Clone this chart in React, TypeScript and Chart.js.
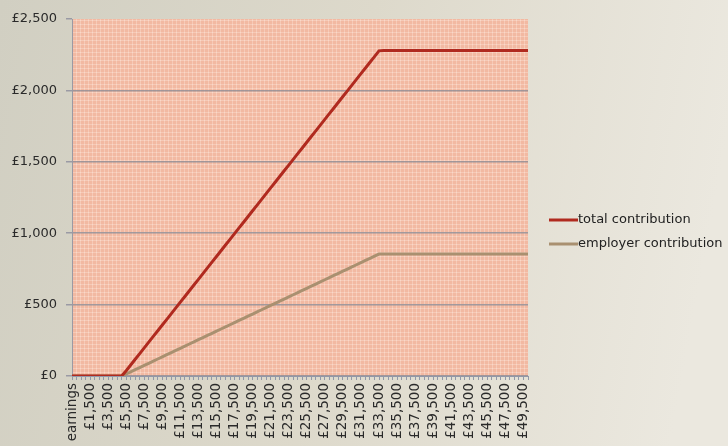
import React, { useEffect, useRef } from "react";
import { Chart, registerables } from "chart.js";

Chart.register(...registerables);

const earnings = [
  0, 500, 1000, 1500, 2000, 2500, 3000, 3500, 4000, 4500, 5000, 5500, 6000, 6500, 7000, 7500, 8000, 8500, 9000, 9500,
  10000, 10500, 11000, 11500, 12000, 12500, 13000, 13500, 14000, 14500, 15000, 15500, 16000, 16500, 17000, 17500, 18000, 18500, 19000, 19500,
  20000, 20500, 21000, 21500, 22000, 22500, 23000, 23500, 24000, 24500, 25000, 25500, 26000, 26500, 27000, 27500, 28000, 28500, 29000, 29500,
  30000, 30500, 31000, 31500, 32000, 32500, 33000, 33500, 34000, 34500, 35000, 35500, 36000, 36500, 37000, 37500, 38000, 38500, 39000, 39500,
  40000, 40500, 41000, 41500, 42000, 42500, 43000, 43500, 44000, 44500, 45000, 45500, 46000, 46500, 47000, 47500, 48000, 48500, 49000, 49500,
  50000,
];

const firstCategory = "earnings";

const totalContribution = [
  0,
  0, 0, 0, 0, 0, 0, 0, 0, 0, 0, 0,
  37, 77, 117, 157, 197, 237, 277, 317, 357, 397, 437, 477, 517, 557, 597, 637, 677, 717, 757, 797,
  837, 877, 917, 957, 997, 1037, 1077, 1117, 1157, 1197, 1237, 1277, 1317, 1357, 1397, 1437, 1477, 1517, 1557, 1597,
  1637, 1677, 1717, 1757, 1797, 1837, 1877, 1917, 1957, 1997, 2037, 2077, 2117, 2157, 2197, 2237, 2277,
  2280, 2280, 2280, 2280, 2280, 2280, 2280, 2280, 2280, 2280, 2280, 2280, 2280, 2280, 2280, 2280, 2280,
  2280, 2280, 2280, 2280, 2280, 2280, 2280, 2280, 2280, 2280, 2280, 2280, 2280, 2280, 2280, 2280,
];

const employerContribution = [
  0,
  0, 0, 0, 0, 0, 0, 0, 0, 0, 0, 0,
  14, 29, 44, 59, 74, 89, 104, 119, 134, 149, 164, 179, 194, 209, 224, 239, 254, 269, 284, 299,
  314, 329, 344, 359, 374, 389, 404, 419, 434, 449, 464, 479, 494, 509, 524, 539, 554, 569, 584, 599,
  614, 629, 644, 659, 674, 689, 704, 719, 734, 749, 764, 779, 794, 809, 824, 839, 854,
  855, 855, 855, 855, 855, 855, 855, 855, 855, 855, 855, 855, 855, 855, 855, 855, 855,
  855, 855, 855, 855, 855, 855, 855, 855, 855, 855, 855, 855, 855, 855, 855, 855,
];

const seriesNames = ["total contribution", "employer contribution"];
const seriesColors = ["#b02a1f", "#a99070"];

const fmt = (v: number) => "£" + v.toLocaleString("en-GB");

export default function App() {
  const ref = useRef<HTMLCanvasElement | null>(null);

  useEffect(() => {
    const canvas = ref.current;
    if (!canvas) return;

    const tile = document.createElement("canvas");
    tile.width = 4;
    tile.height = 4;
    const tctx = tile.getContext("2d")!;
    tctx.fillStyle = "#f2b9a2";
    tctx.fillRect(0, 0, 4, 4);
    tctx.fillStyle = "#f6cab7";
    tctx.fillRect(0, 0, 4, 1);
    tctx.fillRect(0, 0, 1, 4);
    tctx.fillStyle = "#f9d8c9";
    tctx.fillRect(0, 0, 1, 1);

    const bgPlugin = {
      id: "bg",
      beforeDraw(chart: any) {
        const { ctx, width, height, chartArea } = chart;
        ctx.save();
        const g = ctx.createLinearGradient(0, 0, width, height * 0.3);
        g.addColorStop(0, "#d1cfc2");
        g.addColorStop(0.5, "#ddd9cb");
        g.addColorStop(1, "#ebe8df");
        ctx.fillStyle = g;
        ctx.fillRect(0, 0, width, height);
        const pat = ctx.createPattern(tile, "repeat");
        ctx.fillStyle = pat;
        ctx.fillRect(chartArea.left, chartArea.top, chartArea.right - chartArea.left, chartArea.bottom - chartArea.top);
        ctx.restore();
      },
    };

    const legendPlugin = {
      id: "customLegend",
      afterDraw(chart: any) {
        const { ctx } = chart;
        ctx.save();
        ctx.font = "13px 'DejaVu Sans'";
        ctx.textBaseline = "middle";
        ctx.textAlign = "left";
        const ys = [220, 244];
        chart.data.datasets.forEach((ds: any, i: number) => {
          ctx.strokeStyle = ds.borderColor;
          ctx.lineWidth = 3;
          ctx.beginPath();
          ctx.moveTo(549, ys[i]);
          ctx.lineTo(578, ys[i]);
          ctx.stroke();
          ctx.fillStyle = "#222";
          ctx.fillText(ds.label, 578, ys[i]);
        });
        ctx.restore();
      },
    };

    const labels = [firstCategory, ...earnings.map(fmt)];

    const chart = new Chart(canvas, {
      type: "line",
      data: {
        labels,
        datasets: [
          {
            label: seriesNames[0],
            data: totalContribution,
            borderColor: seriesColors[0],
            backgroundColor: seriesColors[0],
            borderWidth: 3,
            pointRadius: 0,
            tension: 0,
          },
          {
            label: seriesNames[1],
            data: employerContribution,
            borderColor: seriesColors[1],
            backgroundColor: seriesColors[1],
            borderWidth: 3,
            pointRadius: 0,
            tension: 0,
          },
        ],
      },
      options: {
        animation: false,
        responsive: false,
        layout: { padding: { top: 19, right: 200, left: 0, bottom: 0 } },
        plugins: { legend: { display: false }, tooltip: { enabled: false } },
        scales: {
          x: {
            type: "category",
            offset: false,
            afterFit: (s: any) => {
              s.height = 70;
            },
            grid: {
              drawOnChartArea: false,
              drawTicks: true,
              tickLength: 4,
              color: "#9298a8",
            },
            border: { display: true, color: "#9298a8", width: 1 },
            ticks: {
              autoSkip: false,
              minRotation: 90,
              maxRotation: 90,
              padding: 3,
              color: "#2a2a2a",
              font: { family: "'DejaVu Sans'", size: 13.5 },
              callback: (_v: any, i: number) => (i % 4 === 0 ? labels[i] : ""),
            },
          },
          y: {
            min: 0,
            max: 2500,
            afterFit: (s: any) => {
              s.width = 72;
            },
            grid: {
              color: (c: any) => (c.tick && c.tick.value === 2500 ? "rgba(0,0,0,0)" : "rgba(140,140,150,0.8)"),
              lineWidth: 1.5,
              tickLength: 6,
              tickColor: "#9a9aa4",
            },
            border: { display: true, color: "#9a9aa4", width: 1 },
            ticks: {
              stepSize: 500,
              padding: 9,
              color: "#2a2a2a",
              font: { family: "'DejaVu Sans'", size: 13 },
              callback: (v: any) => fmt(Number(v)),
            },
          },
        },
      },
      plugins: [bgPlugin, legendPlugin],
    });

    return () => chart.destroy();
  }, []);

  return (
    <div style={{ position: "fixed", left: 0, top: 0, width: 728, height: 446 }}>
      <canvas ref={ref} width={728} height={446} style={{ display: "block" }} />
    </div>
  );
}
